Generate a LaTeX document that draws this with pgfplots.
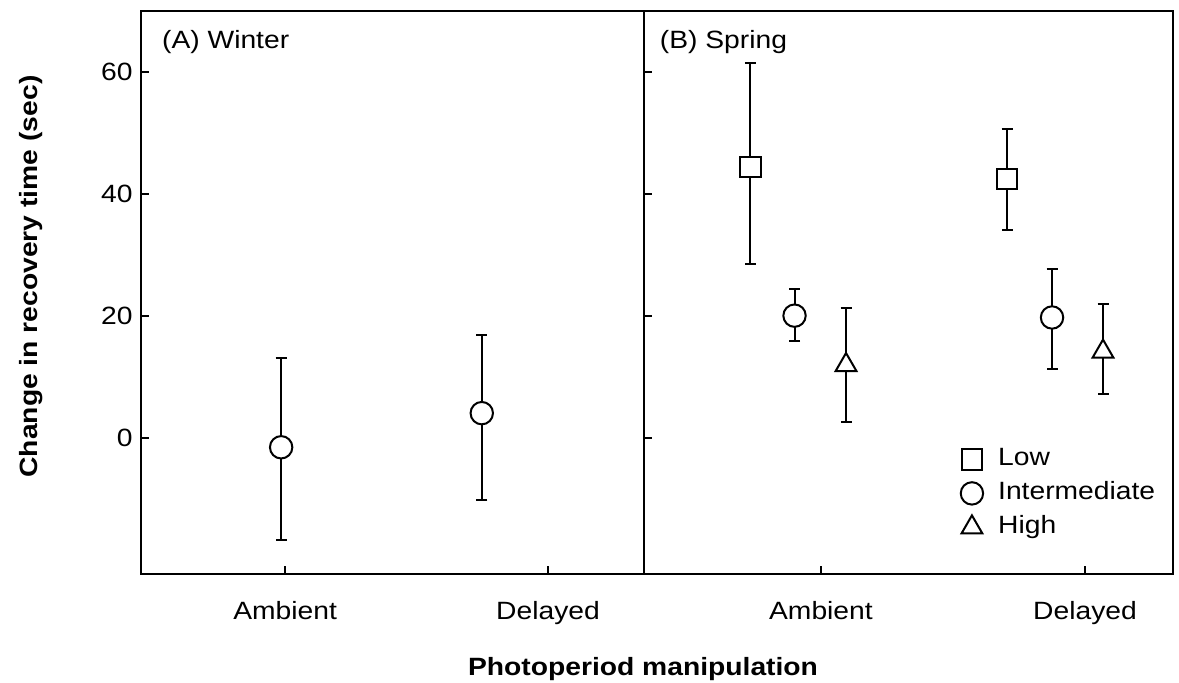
\documentclass[border=0pt]{standalone}
\usepackage{fontspec}
\setmainfont{Liberation Sans}[FakeStretch=1.13]
\usepackage{pgfplots}
\pgfplotsset{compat=1.18}
\usepackage{pgfplotstable}

% Winter (panel A): x, y, error plus, error minus
\pgfplotstableread{
x y ep em
-0.015 -1.6 14.6 15.2
0.748 4.0 12.8 14.2
}\winter
% Spring (panel B)
\pgfplotstableread{
x y ep em
-0.267 44.4 17.1 15.9
0.705 42.4 8.25 8.35
}\springlow
\pgfplotstableread{
x y ep em
-0.100 20.0 4.3 4.15
0.875 19.7 7.95 8.4
}\springint
\pgfplotstableread{
x y ep em
0.095 11.9 9.4 9.4
1.068 14.1 7.8 6.9
}\springhigh

\pgfplotsset{
  panel/.style={
    scale only axis,
    height=281.5pt,
    ymin=-22.4, ymax=70,
    ytick={0,20,40,60},
    xtick={0,1},
    xticklabels={Ambient,Delayed},
    tick align=inside,
    major tick length=4pt,
    xtick pos=bottom,
    ytick pos=left,
    axis line style={line width=1pt},
    every tick/.style={black, line width=1pt},
    x tick label style={inner sep=0pt, yshift=-13.6pt},
    y tick label style={inner sep=0pt, xshift=-4pt},
    /pgf/number format/assume math mode=true,
    error bars/y dir=both,
    error bars/y explicit,
    error bars/error bar style={line width=1pt, black},
    error bars/error mark options={line width=1pt, black, mark size=2.75pt, rotate=90},
  },
  pt/.style={only marks, black, line width=1pt, mark options={solid, fill=white, draw=black, line width=1pt}},
}

\begin{document}
\fontsize{12.5}{15}\selectfont
\begin{tikzpicture}
\path[use as bounding box] (-70.5pt,-54pt) rectangle (519pt,287pt);

\begin{axis}[panel, at={(0pt,0pt)}, anchor=south west,
  width=251.5pt, xmin=-0.548, xmax=1.365,
  yticklabels={0,20,40,60}]
\addplot+[pt, mark=*, mark size=5.6pt]
  table[x=x, y=y, y error plus=ep, y error minus=em] {\winter};
\node[anchor=base west, inner sep=0pt] at ([xshift=10.35pt, yshift=-19pt]rel axis cs:0,1) {(A) Winter};
\end{axis}

\begin{axis}[panel, at={(251.5pt,0pt)}, anchor=south west,
  width=264.5pt, xmin=-0.670, xmax=1.333,
  yticklabels={},
  legend cell align=left,
  legend style={at={(rel axis cs:0.598,0.2256)}, anchor=north west,
    draw=none, fill=none, inner sep=0pt, row sep=5pt, column sep=7.5pt,
    nodes={inner sep=0pt, text height=9pt, text depth=3pt}}]
\addplot+[pt, mark=square*, mark size=5.1pt]
  table[x=x, y=y, y error plus=ep, y error minus=em] {\springlow};
\addlegendentry{Low}
\addplot+[pt, mark=*, mark size=5.6pt]
  table[x=x, y=y, y error plus=ep, y error minus=em] {\springint};
\addlegendentry{Intermediate}
\addplot+[pt, mark=triangle*, mark size=6pt]
  table[x=x, y=y, y error plus=ep, y error minus=em] {\springhigh};
\addlegendentry{High}
\node[anchor=base west, inner sep=0pt] at ([xshift=7.75pt, yshift=-19pt]rel axis cs:0,1) {(B) Spring};
\end{axis}

\node[font=\bfseries, anchor=base, inner sep=0pt] at (251pt,-50.5pt) {Photoperiod manipulation};
\node[font=\bfseries, rotate=90, anchor=base, inner sep=0pt] at (-51.5pt,148.75pt) {Change in recovery time (sec)};
\end{tikzpicture}
\end{document}
